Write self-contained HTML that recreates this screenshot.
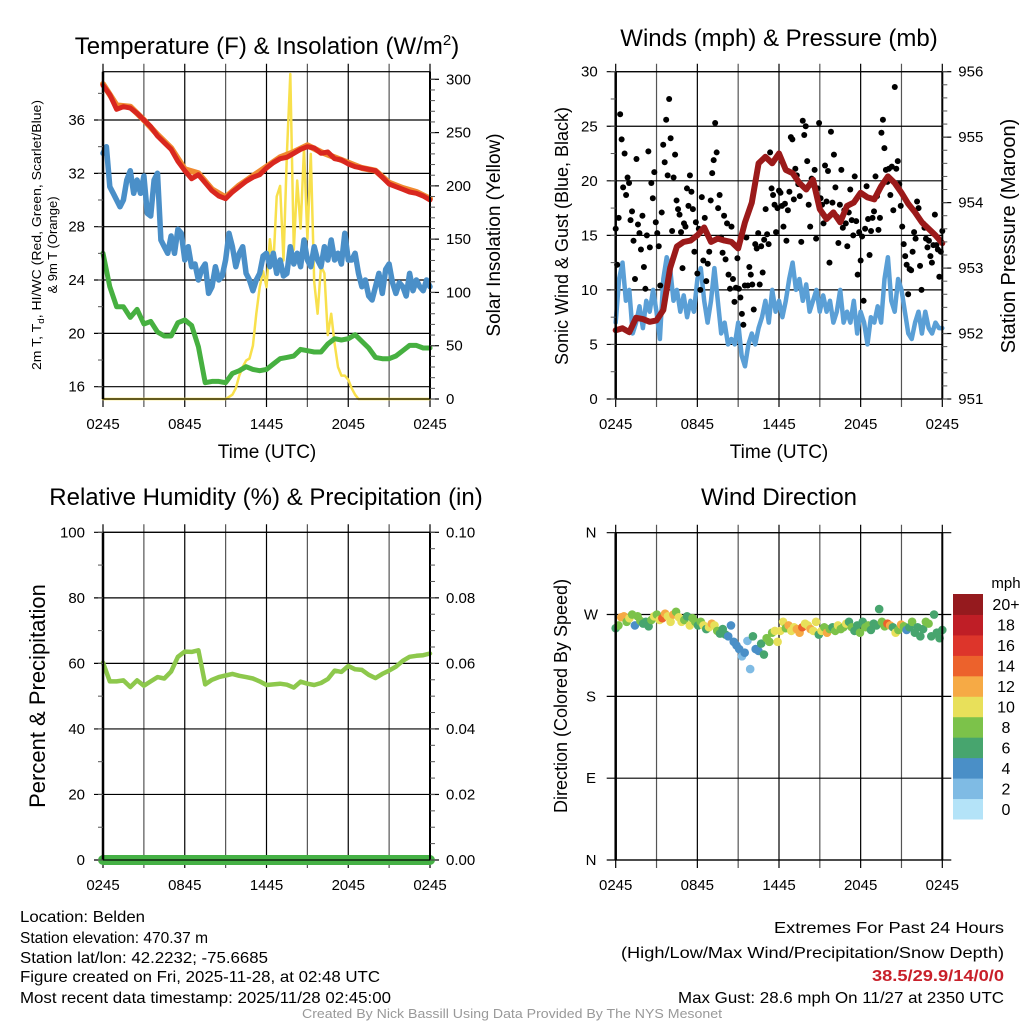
<!DOCTYPE html>
<html><head><meta charset="utf-8"><style>
html,body{margin:0;padding:0;background:#fff;}
svg{display:block;font-family:"Liberation Sans",sans-serif;}
</style></head><body>
<svg id="s" width="1024" height="1024" viewBox="0 0 1024 1024" xmlns="http://www.w3.org/2000/svg">
<rect width="1024" height="1024" fill="#fff"/>
<g id="grid"></g>
<g id="marks"></g>
<g id="axes"></g>
<g font-size="24" fill="#000" text-anchor="middle">
<text x="267" y="54">Temperature (F) &amp; Insolation (W/m<tspan dy="-9" font-size="15">2</tspan><tspan dy="9">)</tspan></text>
<text x="779" y="46">Winds (mph) &amp; Pressure (mb)</text>
<text x="266" y="505">Relative Humidity (%) &amp; Precipitation (in)</text>
<text x="779" y="505">Wind Direction</text>
</g>
<g font-size="19" text-anchor="middle">
<text x="267" y="458">Time (UTC)</text>
<text x="779" y="458">Time (UTC)</text>
<text transform="translate(41,235) rotate(-90)" font-size="13" textLength="270" lengthAdjust="spacingAndGlyphs">2m T, T<tspan font-size="9" dy="3">d</tspan><tspan dy="-3">, HI/WC (Red, Green, Scarlet/Blue)</tspan></text>
<text transform="translate(57,245) rotate(-90)" font-size="13">&amp; 9m T (Orange)</text>
<text transform="translate(500,235) rotate(-90)" font-size="19">Solar Insolation (Yellow)</text>
<text transform="translate(568,236) rotate(-90)" font-size="18">Sonic Wind &amp; Gust (Blue, Black)</text>
<text transform="translate(1015,236) rotate(-90)" font-size="20">Station Pressure (Maroon)</text>
<text transform="translate(45,696) rotate(-90)" font-size="22">Percent &amp; Precipitation</text>
<text transform="translate(567,696) rotate(-90)" font-size="18">Direction (Colored By Speed)</text>
</g>
<g id="cbar"></g>
<text x="1006" y="588" font-size="15" text-anchor="middle">mph</text>
<g font-size="16" fill="#000" lengthAdjust="spacingAndGlyphs">
<text x="20" y="922" textLength="125" lengthAdjust="spacingAndGlyphs">Location: Belden</text>
<text x="20" y="943" textLength="188" lengthAdjust="spacingAndGlyphs">Station elevation: 470.37 m</text>
<text x="20" y="963" textLength="248" lengthAdjust="spacingAndGlyphs">Station lat/lon: 42.2232; -75.6685</text>
<text x="20" y="982" textLength="360" lengthAdjust="spacingAndGlyphs">Figure created on Fri, 2025-11-28, at 02:48 UTC</text>
<text x="20" y="1003" textLength="371" lengthAdjust="spacingAndGlyphs">Most recent data timestamp: 2025/11/28 02:45:00</text>
<text x="1004" y="933" text-anchor="end" textLength="230" lengthAdjust="spacingAndGlyphs">Extremes For Past 24 Hours</text>
<text x="1004" y="958" text-anchor="end" textLength="383" lengthAdjust="spacingAndGlyphs">(High/Low/Max Wind/Precipitation/Snow Depth)</text>
<text x="1004" y="981" text-anchor="end" textLength="132" lengthAdjust="spacingAndGlyphs" fill="#c8202a" font-weight="bold">38.5/29.9/14/0/0</text>
<text x="1004" y="1003" text-anchor="end" textLength="326" lengthAdjust="spacingAndGlyphs">Max Gust: 28.6 mph On 11/27 at 2350 UTC</text>
<text x="512" y="1018" text-anchor="middle" font-size="13" fill="#999" textLength="420" lengthAdjust="spacingAndGlyphs">Created By Nick Bassill Using Data Provided By The NYS Mesonet</text>
</g>
</svg>
<script>
// ---- data arrays ----
const timeLabels = ["0245","0845","1445","2045","0245"];
const tempTicks = [16,20,24,28,32,36];
const insoTicks = [0,50,100,150,200,250,300];
const windTicks = [0,5,10,15,20,25,30];
const presTicks = [951,952,953,954,955,956];
const rhTicks = [0,20,40,60,80,100];
const precTicks = ["0.00","0.02","0.04","0.06","0.08","0.10"];
const dirLabels = ["N","E","S","W","N"];
const dirTicks = [0,90,180,270,360];
const cbarLabels = ["0","2","4","6","8","10","12","14","16","18","20+"];
const cbarColors = ["#b4e3f8","#7fbbe4","#4a8fc7","#47a56e","#7cc24a","#e8e05a","#f6aa45","#ec622c","#dd352b","#bf1e26","#951a1e"];

const tempRed = [38.6,37.9,36.8,37.0,36.9,36.5,36.0,35.5,34.8,34.3,33.8,32.9,32.2,31.6,31.9,31.3,30.7,30.3,30.1,30.6,31.0,31.4,31.7,31.9,32.4,32.8,33.1,33.2,33.5,33.8,34.0,33.9,33.5,33.6,33.1,33.0,32.7,32.5,32.4,32.3,32.2,31.7,31.2,31.0,30.8,30.6,30.5,30.3,30.0];
const temp9m = [38.7,37.1,37.0,36.0,34.9,33.9,32.3,32.0,30.8,30.2,31.1,31.8,32.5,33.2,33.6,34.1,33.6,33.2,32.8,32.4,32.2,31.3,30.9,30.6,30.1];
const dewGreen = [26,23.5,22,22,21.2,21.8,20.7,20.9,20.1,19.8,19.8,20.8,21.0,20.6,19.0,16.3,16.4,16.4,16.3,17.0,17.2,17.5,17.3,17.2,17.3,17.7,18.1,18.2,18.3,18.8,18.7,18.6,18.6,19.2,19.6,19.5,19.6,19.9,19.4,18.9,18.2,18.1,18.1,18.3,18.7,19.1,19.1,18.9,18.9];
const windChill = [33.5,34,31,30.5,30,29.5,30,31.5,32.2,30.5,31.5,30.5,31.8,29,28.8,31.5,32,27,26.5,26,27.3,26,27.8,27.5,25.5,26.5,25,25.2,24,24.8,25.2,23,23.5,25,24,24.3,25.5,27.5,26.5,25,26,26.5,24.5,24,23.2,24,24.5,25.8,26,25,26,24.5,25.5,24.3,24.5,26.5,25.2,26,25,27,25.5,25,26.5,25.5,25,26.5,25.5,27,25.5,26,25.2,27.5,25.5,25.5,26,24.5,23.5,24,22.8,22.5,23.5,24.5,23,24.8,25.2,23.8,23,23.8,23.5,22.8,24.5,23.2,24,23.5,23.2,24,23.5];
const insolation = [0,0,0,0,0,0,0,0,0,0,0,0,0,0,0,0,0,0,0,0,0,0,0,0,0,0,0,0,0,0,0,0,0,0,0,0,0,2,4,10,22,30,36,38,50,80,105,120,105,150,125,190,200,130,230,305,140,205,160,235,150,230,110,80,125,118,60,80,52,30,22,22,18,10,4,0,0,0,0,0,0,0,0,0,0,0,0,0,0,0,0,0,0,0,0,0,0];

const windSpeed = [7,11,12.5,9,10,6,7,8.5,6.5,9,8,10,8,5.5,11,13,12,9,10,8,9.5,7.5,9,8,11,12,9,7,9,12,9,6,7,5,5.5,5,7,4,3,5,6,5,6.5,7.5,9,7,10,8,9,7.5,9,11,12.5,10,11,9,10.5,8,9,10,8,9.5,8,9,7,8,10,7,8,7,9,6,8,7,5,7.5,7,8.5,7,11,13,9,8,11,10,8,6,5.5,7,8,6,8,6.5,6,7,6.5,6.5];
const gusts = [15.6,12.3,16.6,26.1,23.8,19.4,22.5,18.7,20.3,19.8,16.4,17.2,14.5,11,22,16,15.2,13.7,16.8,12.1,10.1,15,22.7,13.9,19.8,18.4,20.8,16.2,15.2,14,10.4,17.1,23.3,21.7,25.6,20.5,27.5,23.9,15.4,20.3,22.4,18.2,17.4,16.9,15.3,12,16.1,15.8,19.3,17.7,20.5,19,17.4,13.5,16.2,11.5,15.6,10,18.5,12.7,16.6,10.8,12.4,13.5,18.2,20.7,21.9,25.3,22.6,17.5,18.7,14.8,13.4,16.8,12.8,16.1,11.4,10.1,15.8,11,8.9,10.2,12.9,10.1,9.3,7.8,6.8,10.4,14.8,10.4,12.1,11.4,10.5,8.2,14.2,13.8,15.2,10.5,14,11.6,14.6,17.4,15.1,14.2,22.6,19.3,18.7,17.8,15.3,17.5,19.1,18.9,17.7,15.8,17.9,14.5,17.3,19,24,23.8,18.3,21.1,20.5,19.7,18.6,14.4,25.5,24.2,25,21.8,17.8,15.8,20.2,19.6,21,14.7,19.3,25.3,18.4,17.8,16.1,21.4,18.1,20.9,12.5,24.5,18,22.4,19.4,16.7,14.3,17.8,21,15.7,17.3,16.1,14,17.1,19.2,16.4,15,20.4,16.3,11.4,15.3,12.7,14.9,9,15.6,19.5,16.5,13.2,15.4,16.6,17.2,20.4,18.6,15.5,16.6,24.4,25.6,23,21,19.9,21.1,18.7,21.3,17.3,28.6,21.1,21.8,19.7,17.7,15.8,14.2,13.1,12.3,9.6,11.9,11.8,13.5,15.3,14.7,18.1,17.5,12.2,10,16.1,15.7,14.7,13.9,14.5,13.1,12.5,14.1,16.9,14.1,13.7,11.2,13.5,15.4];
const pressure = [952.05,952.08,952.02,952.24,952.22,952.18,952.2,952.36,953.0,953.33,953.4,953.42,953.5,953.62,953.4,953.45,953.42,953.4,953.3,953.7,954.0,954.6,954.7,954.6,954.75,954.5,954.45,954.3,954.2,954.35,953.9,953.75,953.85,953.7,953.95,954.0,954.15,954.08,954.05,954.25,954.4,954.3,954.15,953.98,953.85,953.7,953.6,953.5,953.38];

const humidity = [60.2,54.5,54.5,54.8,52.8,54.8,53.2,54.5,55.8,55.4,57.5,62,63.6,63.5,64,53.6,55,55.8,56.3,56.8,56.2,55.8,55.4,54.5,53.4,53.6,53.8,53.5,52.6,54.4,53.8,53.4,54,55.2,57.8,57.4,59.2,58.2,58,56.5,55.5,56.8,57.8,59,60.8,62,62.3,62.5,63];
const precip = [0,0,0,0,0,0,0,0,0,0,0,0,0,0,0,0,0,0,0,0,0,0,0,0,0];

const windDir = [255,258,267,268,262,266,270,258,268,263,260,262,257,264,268,270,264,266,271,268,262,270,273,267,262,264,268,258,266,262,258,262,258,254,256,260,258,252,249,254,248,246,258,240,236,232,224,228,241,210,246,232,230,238,226,244,240,250,252,240,252,262,255,258,252,256,254,250,256,260,258,254,252,262,248,252,256,250,254,256,252,258,254,256,260,262,256,252,258,250,262,256,258,253,260,258,276,262,257,260,258,256,250,253,259,257,253,256,262,250,256,246,254,262,260,246,270,250,244,253];
const dirSpeed = [7,8,12,12,9,10,8,5,8,9,7,6,7,8,10,9,11,14,13,10,10,12,9,11,10,8,7,10,9,8,7,9,10,6,11,12,10,8,6,7,6,4,5,4,4,4,3,4,3,3,6,4,4,6,7,8,9,8,10,10,10,11,8,12,10,11,12,13,15,11,10,12,10,11,7,10,8,12,8,7,9,10,8,9,10,7,8,6,7,8,7,8,8,7,7,6,6,8,9,14,12,7,10,8,12,9,4,7,8,6,6,6,7,8,8,6,6,7,6,6];

// ---- setup ----
const NS = "http://www.w3.org/2000/svg";
const G = document.getElementById('grid'), M = document.getElementById('marks'), A = document.getElementById('axes');
function mk(parent, tag, attrs, name){
  const el = document.createElementNS(NS, tag);
  for (const k in attrs) el.setAttribute(k, attrs[k]);
  
  
  parent.appendChild(el);
  return el;
}
const P = {
  tl:{x0:103,x1:430,y0:71.7,y1:399},
  tr:{x0:615.7,x1:942.3,y0:71.7,y1:399},
  bl:{x0:103,x1:430,y0:532.3,y1:860},
  br:{x0:615.7,x1:942.3,y0:532.7,y1:860}
};
function xs(p,h){return p.x0 + h*(p.x1-p.x0)/24;}
function hourOf(arr,i){return i*24/(arr.length-1);}
function lin(d0,d1,r0,r1){return v => r0 + (v-d0)*(r1-r0)/(d1-d0);}
const yTemp = lin(16,36,386.7,120);
const yInso = lin(0,300,399,79.3);
const yWind = lin(0,30,399,71.7);
const yPres = lin(951,956,399,71.7);
const yRH = lin(0,100,860,532.3);
const yPrec = lin(0,0.1,860,532.3);
const yDir = lin(0,360,860,532.7);

function frame(p, key){
  for (let k=0;k<=8;k++){
    const x = xs(p,k*3);
    mk(G,'line',{x1:x,x2:x,y1:p.y0-8,y2:p.y1+8,stroke:(k%2?'#555':'#000'),'stroke-width':1.2},key+'-vgrid-'+k);
  }
  timeLabels.forEach((t,i)=>{
    const tx = mk(A,'text',{x:xs(p,i*6),y:p.y1+30,'font-size':15,'text-anchor':'middle'},key+'-x-tick-label');
    tx.textContent = t;
  });
  mk(A,'rect',{x:p.x0,y:p.y0,width:p.x1-p.x0,height:p.y1-p.y0,fill:'none',stroke:'#000','stroke-width':1.2},key+'-plot-border');
  mk(A,'line',{x1:p.x0,x2:p.x0,y1:p.y0,y2:p.y1,stroke:'#000','stroke-width':2.5},key+'-left-axis');
  mk(A,'line',{x1:p.x1,x2:p.x1,y1:p.y0,y2:p.y1,stroke:'#000','stroke-width':2},key+'-right-axis');
}
function leftTicks(p,key,ticks,yf,labels,minorStep,lo,hi){
  ticks.forEach((v,i)=>{
    const y=yf(v);
    mk(G,'line',{x1:p.x0-9,x2:p.x1,y1:y,y2:y,stroke:'#000','stroke-width':1.2},key+'-hgrid');
    const t=mk(A,'text',{x:p.x0-18,y:y+5,'font-size':15,'text-anchor':'end'},key+'-y-tick-label');
    t.textContent = labels?labels[i]:v;
  });
  for(let v=lo; v<=hi+1e-9; v+=minorStep){ const y=yf(v); if(y<p.y0-0.5||y>p.y1+0.5) continue;
    mk(A,'line',{x1:p.x0-5,x2:p.x0,y1:y,y2:y,stroke:'#555','stroke-width':1},key+'-y-minor-tick'); }
}
function rightTicks(p,key,ticks,yf,labels,minorStep,lo,hi){
  ticks.forEach((v,i)=>{
    const y=yf(v);
    mk(A,'line',{x1:p.x1,x2:p.x1+9,y1:y,y2:y,stroke:'#000','stroke-width':1.2},key+'-right-tick');
    const t=mk(A,'text',{x:p.x1+16,y:y+5,'font-size':15,'text-anchor':'start'},key+'-right-tick-label');
    t.textContent = labels?labels[i]:v;
  });
  for(let v=lo; v<=hi+1e-9; v+=minorStep){ const y=yf(v); if(y<p.y0-0.5||y>p.y1+0.5) continue;
    mk(A,'line',{x1:p.x1,x2:p.x1+5,y1:y,y2:y,stroke:'#555','stroke-width':1},key+'-right-minor-tick'); }
}
function series(p,arr,yf,color,w,name){
  const pts = arr.map((v,i)=>xs(p,hourOf(arr,i)).toFixed(1)+','+yf(v).toFixed(1)).join(' ');
  mk(M,'polyline',{points:pts,fill:'none',stroke:color,'stroke-width':w,'stroke-linejoin':'round','stroke-linecap':'round'},name);
}

// Panel 1
frame(P.tl,'temp');
leftTicks(P.tl,'temp',tempTicks,yTemp,null,2,16,38);
rightTicks(P.tl,'inso',insoTicks,yInso,null,10,0,300);
series(P.tl,insolation,yInso,'#f8e04c',2.5,'insolation-line');
series(P.tl,temp9m,yTemp,'#f08a30',6,'temp-9m-line');
series(P.tl,tempRed,yTemp,'#d9271f',5,'temperature-line');
series(P.tl,windChill,yTemp,'#4a8fc8',5.5,'wind-chill-line');
series(P.tl,dewGreen,yTemp,'#46b040',5,'dewpoint-line');

// Panel 2
frame(P.tr,'wind');
leftTicks(P.tr,'wind',windTicks,yWind,null,2.5,0,30);
rightTicks(P.tr,'pres',presTicks,yPres,null,0.2,951,956);
series(P.tr,windSpeed,yWind,'#5a9fd6',4.5,'wind-speed-line');
gusts.forEach((v,i)=>{
  mk(M,'circle',{cx:xs(P.tr,hourOf(gusts,i)),cy:yWind(v),r:3,fill:'#000'},'gust-point');
});
series(P.tr,pressure,yPres,'#9b1a1a',6,'pressure-line');

// Panel 3
frame(P.bl,'rh');
leftTicks(P.bl,'rh',rhTicks,yRH,null,10,0,100);
rightTicks(P.bl,'precip',rhTicks.map(v=>v/1000),yPrec,precTicks,0.005,0,0.1);
series(P.bl,humidity,yRH,'#8dc84c',4.5,'humidity-line');
series(P.bl,precip,yPrec,'#45b145',10,'precipitation-line');

// Panel 4
frame(P.br,'dir');
dirTicks.forEach((v,i)=>{
  const y=yDir(v);
  mk(G,'line',{x1:P.br.x0-9,x2:P.br.x1+9,y1:y,y2:y,stroke:'#000','stroke-width':1.2},'dir-hgrid');
  const t=mk(A,'text',{x:591,y:y+5,'font-size':15,'text-anchor':'middle'},'dir-y-tick-label');
  t.textContent = dirLabels[i];
});
function speedColor(s){let b=Math.floor(s/2); if(b>10)b=10; if(b<0)b=0; return cbarColors[b];}
windDir.forEach((d,i)=>{
  mk(M,'circle',{cx:xs(P.br,hourOf(windDir,i)),cy:yDir(d),r:4.3,fill:speedColor(dirSpeed[i])},'wind-direction-point');
});

// Colorbar
const C = document.getElementById('cbar');
const cbTop=594, cbBot=819, cbH=(cbBot-cbTop)/cbarColors.length;
cbarColors.forEach((c,i)=>{
  const y = cbBot - (i+1)*cbH;
  mk(C,'rect',{x:953,y:y,width:30,height:cbH+0.5,fill:c},'colorbar-swatch');
  const t=mk(C,'text',{x:1006,y:y+cbH/2+6,'font-size':16,'text-anchor':'middle'},'colorbar-label');
  t.textContent = cbarLabels[i];
});
</script>
</body></html>
